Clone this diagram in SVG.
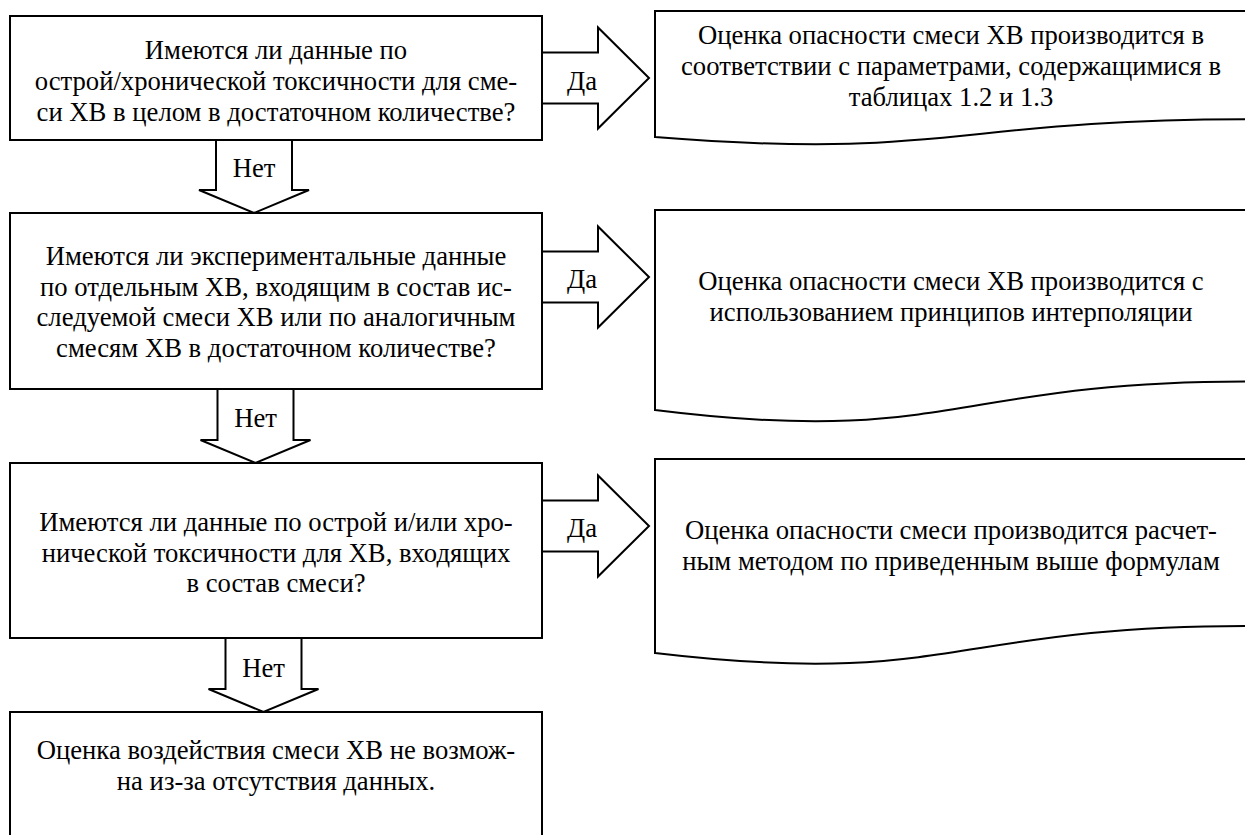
<svg xmlns="http://www.w3.org/2000/svg" width="1245" height="835" viewBox="0 0 1245 835">
  <style>
    .shape { fill: #ffffff; stroke: #000000; stroke-width: 2; stroke-linejoin: miter; }
    .txt { font-family: 'Liberation Serif', 'Times New Roman', serif; font-size: 26.67px; fill: #000000; text-anchor: middle; }
  </style>
  <rect width="1245" height="835" fill="#ffffff"/>

  <!-- decision boxes -->
  <g id="q1">
    <rect class="shape" x="10" y="16" width="532" height="124"/>
    <text class="txt" x="276" y="59">Имеются ли данные по</text>
    <text class="txt" x="276" y="90">острой/хронической токсичности для сме-</text>
    <text class="txt" x="276" y="121">си ХВ в целом в достаточном количестве?</text>
  </g>
  <g id="q2">
    <rect class="shape" x="10" y="213" width="532" height="176"/>
    <text class="txt" x="276" y="265">Имеются ли экспериментальные данные</text>
    <text class="txt" x="276" y="296">по отдельным ХВ, входящим в состав ис-</text>
    <text class="txt" x="276" y="326">следуемой смеси ХВ или по аналогичным</text>
    <text class="txt" x="276" y="357">смесям ХВ в достаточном количестве?</text>
  </g>
  <g id="q3">
    <rect class="shape" x="10" y="463" width="532" height="175"/>
    <text class="txt" x="276" y="531">Имеются ли данные по острой и/или хро-</text>
    <text class="txt" x="276" y="562">нической токсичности для ХВ, входящих</text>
    <text class="txt" x="276" y="592">в состав смеси?</text>
  </g>
  <g id="result-none">
    <rect class="shape" x="10" y="712" width="532" height="140"/>
    <text class="txt" x="276" y="759">Оценка воздействия смеси ХВ не возмож-</text>
    <text class="txt" x="276" y="790">на из-за отсутствия данных.</text>
  </g>

  <!-- outcome documents (wavy bottom) -->
  <g id="doc1">
    <path class="shape" d="M655,11 H1247 V119.3 C951,119.3 951,160.5 655,137.1 Z"/>
    <text class="txt" x="951" y="44">Оценка опасности смеси ХВ производится в</text>
    <text class="txt" x="951" y="75">соответствии с параметрами, содержащимися в</text>
    <text class="txt" x="951" y="106">таблицах 1.2 и 1.3</text>
  </g>
  <g id="doc2">
    <path class="shape" d="M655,210 H1247 V381.6 C951,381.6 951,447 655,410 Z"/>
    <text class="txt" x="951" y="290">Оценка опасности смеси ХВ производится с</text>
    <text class="txt" x="951" y="321">использованием принципов интерполяции</text>
  </g>
  <g id="doc3">
    <path class="shape" d="M655,459 H1247 V626 C951,626 951,688 655,653 Z"/>
    <text class="txt" x="951" y="539">Оценка опасности смеси производится расчет-</text>
    <text class="txt" x="951" y="570">ным методом по приведенным выше формулам</text>
  </g>

  <!-- block-arrow connectors -->
  <g id="connectors">
    <polygon class="shape" points="542,52.5 598,52.5 598,27.5 649,78 598,128.5 598,103.5 542,103.5"/>
    <text class="txt" x="582" y="90">Да</text>
    <polygon class="shape" points="542,251.5 598,251.5 598,226.5 649,277 598,327.5 598,302.5 542,302.5"/>
    <text class="txt" x="582" y="288">Да</text>
    <polygon class="shape" points="542,500.5 598,500.5 598,475.5 649,526 598,576.5 598,551.5 542,551.5"/>
    <text class="txt" x="582" y="537">Да</text>

    <polygon class="shape" points="216,140 292,140 292,190 309,190 254,213 199,190 216,190"/>
    <text class="txt" x="254" y="177">Нет</text>
    <polygon class="shape" points="217.5,389 293.5,389 293.5,440 310.5,440 255.5,463 200.5,440 217.5,440"/>
    <text class="txt" x="255.5" y="427">Нет</text>
    <polygon class="shape" points="225.5,638 301.5,638 301.5,689 318.5,689 263.5,712 208.5,689 225.5,689"/>
    <text class="txt" x="263.5" y="677">Нет</text>
  </g>
</svg>
